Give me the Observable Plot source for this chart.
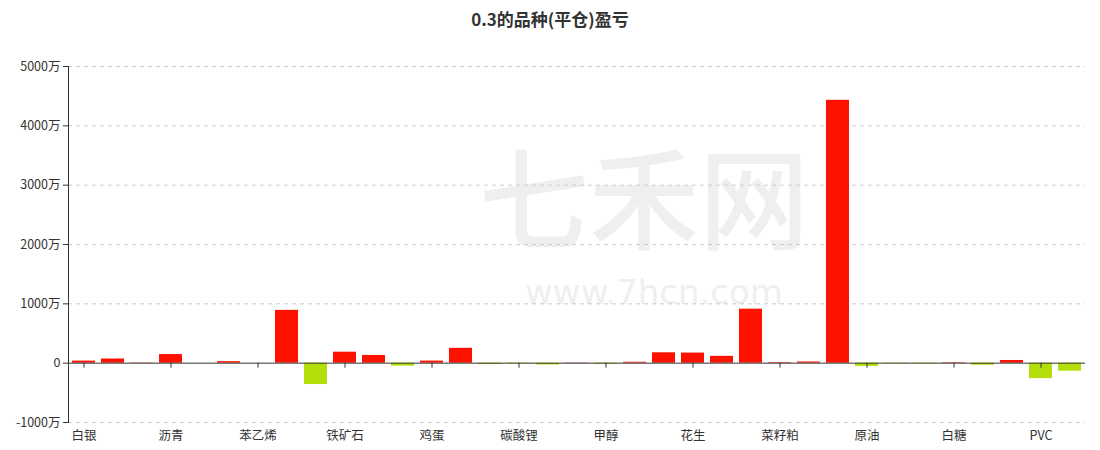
<!DOCTYPE html>
<html>
<head>
<meta charset="utf-8">
<script src="https://cdn.jsdelivr.net/npm/d3@7"></script>
<script src="https://cdn.jsdelivr.net/npm/@observablehq/plot@0.6"></script>
<style>
  html, body { margin: 0; padding: 0; background: #fff; }
  #chart { width: 1100px; height: 450px; position: relative; }
  #title { position: absolute; top: 6px; left: 0; width: 1100px; text-align: center;
           font: bold 17px "Noto Sans CJK SC", "Noto Sans", sans-serif; color: #333; }
</style>
</head>
<body>
<div id="chart"><div id="title">0.3的品种(平仓)盈亏</div></div>
<script>
const categories = ["白银","黄金","沪铜","沥青","燃油","橡胶","苯乙烯","螺纹钢","热卷","铁矿石","焦炭","焦煤",
  "鸡蛋","生猪","工业硅","碳酸锂","纯碱","玻璃","甲醇","尿素","苹果","花生","红枣","豆粕",
  "菜籽粕","菜油","棕榈油","原油","低硫燃油","LPG","白糖","棉花","PTA","PVC","乙二醇"];
// 盈亏（万）
const values = [35, 70, 5, 145, 0, 25, 0, 890, -360, 185, 130, -50,
  35, 250, -20, -10, -30, 5, -15, 15, 175, 170, 115, 910,
  10, 20, 4430, -55, -8, -10, 8, -35, 45, -260, -135];
const yTicks = [-1000, 0, 1000, 2000, 3000, 4000, 5000];
const labeled = categories.filter((d, i) => i % 3 === 0);

const data = categories.map((c, i) => ({cat: c, v: values[i]}));

const plot = Plot.plot({
  width: 1100,
  height: 450,
  marginTop: 66,
  marginBottom: 28,
  marginLeft: 68,
  marginRight: 15,
  style: {fontFamily: '"Noto Sans CJK SC", "Noto Sans", sans-serif', fontSize: "12px", color: "#333", background: "transparent"},
  x: {domain: categories, paddingInner: 0.2, paddingOuter: 0.1, label: null},
  y: {domain: [-1000, 5000], label: null},
  marks: [
    Plot.text(["七禾网"], {frameAnchor: "middle", dx: 67, dy: -39, fontSize: 110, fontWeight: 500, fill: "#efefef"}),
    Plot.text(["www.7hcn.com"], {frameAnchor: "middle", dx: 77, dy: 49, fontSize: 34, fill: "#efefef", fontFamily: "DejaVu Sans"}),
    Plot.gridY(yTicks.filter(d => d !== 0), {stroke: "#ccc", strokeOpacity: 1, strokeDasharray: "4,4"}),
    Plot.axisY(yTicks, {tickFormat: d => d === 0 ? "0" : d + "万", tickSize: 5, tickPadding: 3, stroke: "#333", fill: "#333", fontSize: 12.5}),
    Plot.frame({anchor: "left", stroke: "#333"}),
    Plot.barY(data, {x: "cat", y: "v", fill: d => d.v >= 0 ? "#ff1100" : "#b3de09"}),
    Plot.ruleY([0], {stroke: "#333"}),
    Plot.ruleX(labeled, {x: d => d, y1: 0, y2: 0, insetBottom: -5, stroke: "#333"}),
    Plot.axisX(labeled, {anchor: "bottom", tickSize: 0, tickPadding: 9, fill: "#333", fontSize: 12.5})
  ]
});
plot.style.position = "absolute";
plot.style.top = "0";
plot.style.left = "0";
document.getElementById("chart").appendChild(plot);
</script>
</body>
</html>
